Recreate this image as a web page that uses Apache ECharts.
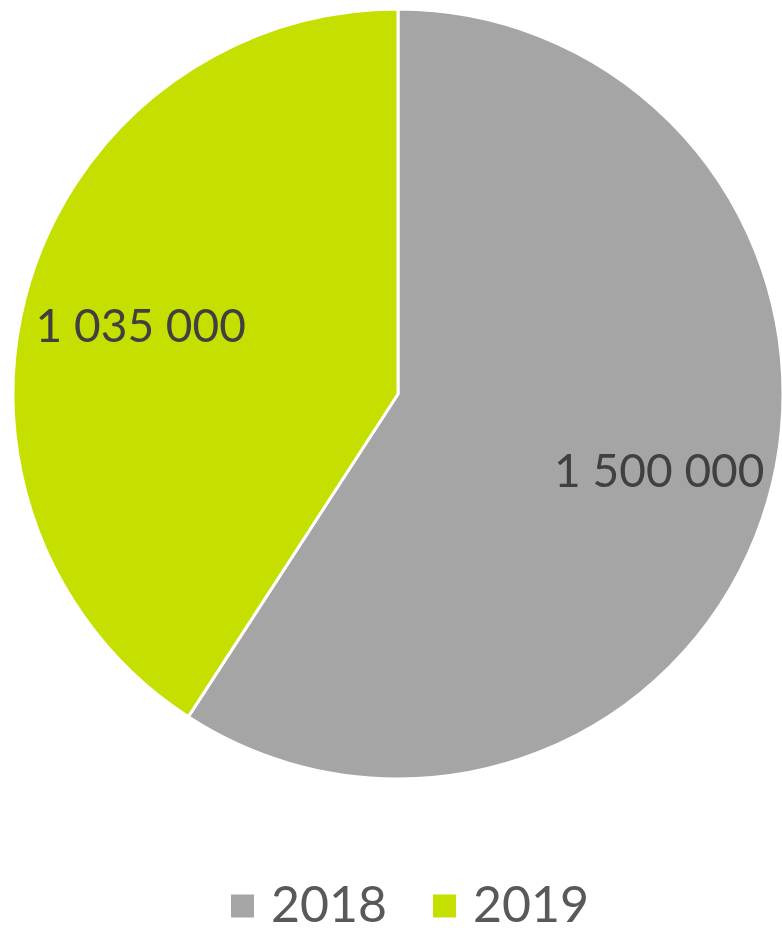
<!DOCTYPE html>
<html>
<head>
<meta charset="utf-8">
<script src="https://cdn.jsdelivr.net/npm/echarts@6/dist/echarts.min.js"></script>
<style>html,body{margin:0;padding:0;background:#fff}#c{width:782px;height:928px}</style>
</head>
<body>
<div id="c"></div>
<script>
const categories = ['2018', '2019'];
const values = [1500000, 1035000];
const colors = ['#A5A5A5', '#C5E000'];

function fmt(v) { return String(v).replace(/\B(?=(\d{3})+(?!\d))/g, ' '); }

const data = categories.map((c, i) => ({ name: c, value: values[i], itemStyle: { color: colors[i] } }));
const labelShift = [[0, 1], [4, 11]];
const chart = echarts.init(document.getElementById('c'));
const font = 'Lato, "Noto Sans", sans-serif';
chart.setOption({
  animation: false,
  legend: {
    data: categories,
    top: 881,
    left: 229,
    padding: 0,
    icon: 'rect',
    itemWidth: 25,
    itemHeight: 25,
    itemGap: 44,
    textStyle: { fontFamily: font, fontSize: 50, lineHeight: 50, color: '#595959', padding: [0, 0, 0, 11] }
  },
  series: [
    {
      type: 'pie',
      center: [398, 394],
      radius: [0, 385],
      startAngle: 90,
      clockwise: true,
      data: data,
      label: { show: false },
      labelLine: { show: false },
      itemStyle: { borderColor: '#fff', borderWidth: 3 },
      emphasis: { disabled: true }
    },
    {
      type: 'pie',
      center: [398, 394],
      radius: [154, 385],
      startAngle: 90,
      clockwise: true,
      silent: true,
      legendHoverLink: false,
      data: categories.map((c, i) => ({ name: c, value: values[i] })),
      itemStyle: { color: 'rgba(0,0,0,0)' },
      label: {
        show: true, position: 'inside',
        formatter: p => fmt(p.value),
        fontFamily: font, fontSize: 46, color: '#404040'
      },
      labelLayout: p => ({ dx: labelShift[p.dataIndex][0], dy: labelShift[p.dataIndex][1] }),
      labelLine: { show: false },
      emphasis: { disabled: true }
    }
  ]
});
</script>
</body>
</html>
